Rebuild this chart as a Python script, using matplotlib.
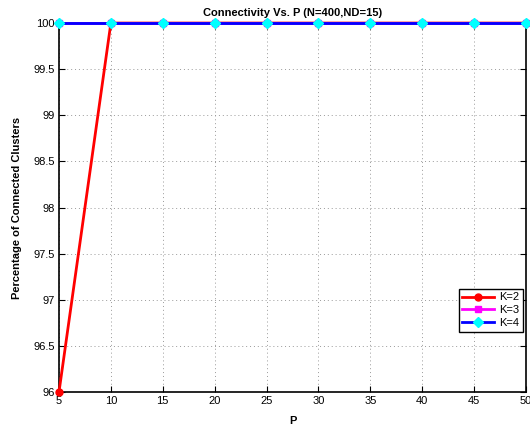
import numpy as np
import matplotlib
matplotlib.use('Agg')
import matplotlib.pyplot as plt

plt.rcParams['font.family'] = ['Liberation Sans', 'DejaVu Sans']

P = [5, 10, 15, 20, 25, 30, 35, 40, 45, 50]
k2 = [96, 100, 100, 100, 100, 100, 100, 100, 100, 100]
k3 = [100, 100, 100, 100, 100, 100, 100, 100, 100, 100]
k4 = [100, 100, 100, 100, 100, 100, 100, 100, 100, 100]

fig = plt.figure(figsize=(5.3, 4.3), dpi=100)
ax = fig.add_axes([0.1113, 0.0884, 0.881, 0.858])

ax.plot(P, k2, color='red', lw=2, marker='o', ms=5, mfc='red', mec='red', label='K=2', clip_on=False, zorder=3)
ax.plot(P, k3, color='magenta', lw=2, marker='s', ms=5, mfc='magenta', mec='magenta', label='K=3', clip_on=False, zorder=3)
ax.plot(P, k4, color='blue', lw=2, marker='D', ms=5, mfc='cyan', mec='cyan', label='K=4', clip_on=False, zorder=3)

ax.set_xlim(5, 50)
ax.set_ylim(96, 100)
ax.set_xticks(P)
ax.set_yticks(np.arange(96, 100.01, 0.5))
ax.set_yticklabels(['96', '96.5', '97', '97.5', '98', '98.5', '99', '99.5', '100'])
ax.grid(True, linestyle=(0, (1, 3)), color='#999999', lw=0.7)
ax.tick_params(direction='in', labelsize=8, length=4, top=True, right=True, pad=3)
for s in ax.spines.values():
    s.set_linewidth(1.2)

ax.set_title('Connectivity Vs. P (N=400,ND=15)', fontsize=8, fontweight='bold', pad=5)
ax.set_xlabel('P', fontsize=8, fontweight='bold', labelpad=7)
ax.set_ylabel('Percentage of Connected Clusters', fontsize=8, fontweight='bold', labelpad=8)

leg = ax.legend(loc='lower right', bbox_to_anchor=(0.994, 0.163), fontsize=8, fancybox=False,
                framealpha=1, edgecolor='black', handlelength=2.8, borderpad=0.35,
                labelspacing=0.25, handletextpad=0.5, borderaxespad=0)
leg.get_frame().set_linewidth(1.0)

fig.savefig('out.png', dpi=100)
